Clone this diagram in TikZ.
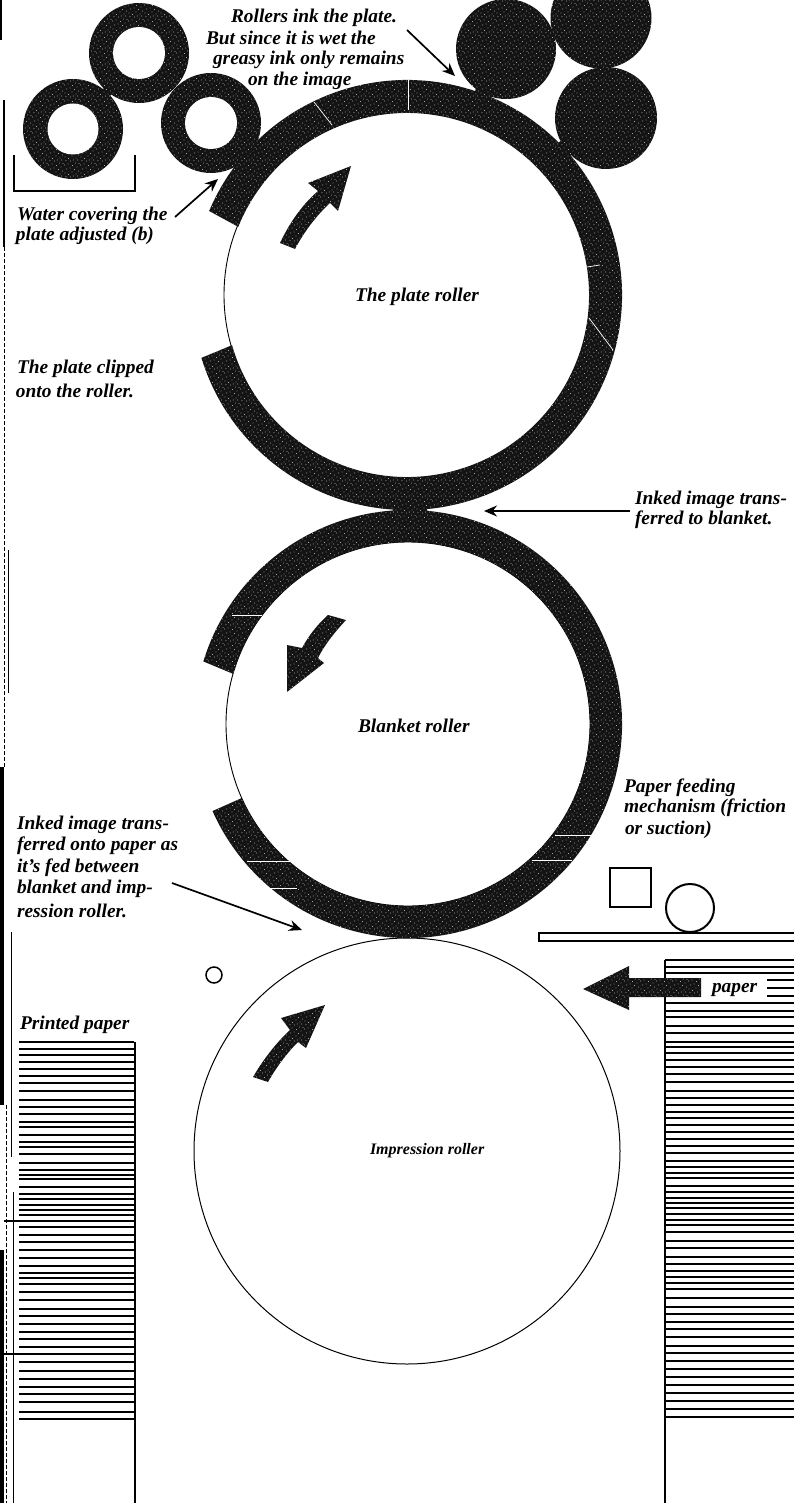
\documentclass[tikz,border=0pt]{standalone}
\usepackage{fontspec}
\setmainfont{Liberation Serif}
\usetikzlibrary{arrows.meta,patterns,calc}
\pgfdeclarepatternformonly{speck}{\pgfqpoint{-1pt}{-1pt}}{\pgfqpoint{17pt}{17pt}}{\pgfqpoint{16pt}{16pt}}{%
  \pgfpathcircle{\pgfqpoint{1pt}{2pt}}{0.42pt}\pgfpathcircle{\pgfqpoint{4.5pt}{0.5pt}}{0.42pt}%
  \pgfpathcircle{\pgfqpoint{8pt}{3pt}}{0.42pt}\pgfpathcircle{\pgfqpoint{12pt}{1pt}}{0.42pt}%
  \pgfpathcircle{\pgfqpoint{14.5pt}{4pt}}{0.42pt}\pgfpathcircle{\pgfqpoint{2.5pt}{6pt}}{0.42pt}%
  \pgfpathcircle{\pgfqpoint{6pt}{7pt}}{0.42pt}\pgfpathcircle{\pgfqpoint{10.5pt}{5.5pt}}{0.42pt}%
  \pgfpathcircle{\pgfqpoint{13pt}{8pt}}{0.42pt}\pgfpathcircle{\pgfqpoint{0.5pt}{10pt}}{0.42pt}%
  \pgfpathcircle{\pgfqpoint{4pt}{11pt}}{0.42pt}\pgfpathcircle{\pgfqpoint{8.5pt}{9.5pt}}{0.42pt}%
  \pgfpathcircle{\pgfqpoint{11.5pt}{12pt}}{0.42pt}\pgfpathcircle{\pgfqpoint{15pt}{11.5pt}}{0.42pt}%
  \pgfpathcircle{\pgfqpoint{2pt}{14.5pt}}{0.42pt}\pgfpathcircle{\pgfqpoint{6.5pt}{14pt}}{0.42pt}%
  \pgfpathcircle{\pgfqpoint{9.5pt}{15pt}}{0.42pt}\pgfpathcircle{\pgfqpoint{13.5pt}{15pt}}{0.42pt}%
  \pgfusepath{fill}}
\definecolor{ink}{gray}{0.08}
\tikzset{
  inkfill/.style={preaction={fill=ink},pattern=speck,pattern color=white},
  inkroller/.style={circle,inner sep=0pt,outer sep=0pt,minimum size=#1,inkfill},
  hole/.style={circle,inner sep=0pt,outer sep=0pt,minimum size=#1,fill=white},
  lab/.style={inner sep=0pt,outer sep=0pt,anchor=west,font=\fontsize{19.4}{21}\selectfont\bfseries\itshape},
  smalllab/.style={lab,font=\fontsize{16}{20}\selectfont\bfseries\itshape},
  leader/.style={draw=black,line width=1.7pt,-{Stealth[length=13pt,width=11pt]}},
  scratch/.style={draw=white,line width=0.7pt},
  sheet/.style={draw=black,line width=1.1pt},
  edge/.style={draw=black,line width=#1},
}
\begin{document}
\begin{tikzpicture}[x=1pt,y=-1pt]
\useasboundingbox (0,0) rectangle (794,1503);
\coordinate (pc) at (407,295);
\coordinate (bc) at (408,724);
% page edge
\draw[edge=2pt] (1,0) -- (1,40);
\draw[edge=1.5pt] (4,100) -- (4,247);
\draw[edge=1pt,dash pattern=on 4pt off 2pt] (4,247) -- (4,767);
\draw[edge=4pt] (2,767) -- (2,1105);
\draw[edge=1pt,dash pattern=on 4pt off 2pt] (6,1105) -- (6,1503);
\draw[edge=4pt] (2,1250) -- (2,1503);
\draw[edge=0.9pt] (8,550) -- (8,693);
\draw[edge=0.9pt] (11,932) -- (11,1157);
\draw[edge=0.9pt] (13,1192) -- (13,1503);
% roller bodies
\draw[line width=0.9pt] (pc) circle[radius=183];
\draw[line width=0.9pt] (bc) circle[radius=182];
\node[circle,draw=black,line width=1pt,inner sep=0pt,outer sep=0pt,minimum size=426pt] (imp) at (407,1151) {};
% plate
\path[inkfill] ($(pc)+(203:215)$) arc[start angle=203,end angle=523,radius=215]
  -- ($(pc)+(524:182)$) arc[start angle=524,end angle=202,radius=182] -- cycle;
% blanket
\path[inkfill] ($(bc)+(197:214)$) arc[start angle=197,end angle=516,radius=214]
  -- ($(bc)+(516:182)$) arc[start angle=516,end angle=196,radius=182] -- cycle;
\path[inkfill] (396,504) -- (424,504) -- (428,512) -- (392,512) -- cycle;
% water rollers
\node[inkroller=100pt] (wa) at (139,53) {};
\node[inkroller=100pt] (wb) at (73,129) {};
\node[inkroller=100pt] (wc) at (211,123) {};
\path[inkfill] (166,78) circle[radius=6];
\path[inkfill] (107,92) circle[radius=5];
\node[hole=52pt] (wah) at (139,53) {};
\node[hole=51pt] (wbh) at (73,129) {};
\node[hole=52pt] (wch) at (211,123) {};
\coordinate (trA) at (14,155); \coordinate (trB) at (14,191);
\coordinate (trC) at (135,191); \coordinate (trD) at (135,155);
\draw[line width=2pt] (trA) -- (trB) -- (trC) -- (trD);
% ink rollers
\node[inkroller=100pt] (ia) at (506,49) {};
\node[inkroller=101pt] (ib) at (601,18) {};
\node[inkroller=102pt] (ic) at (606,118) {};
\path[inkfill] (484,92) circle[radius=9];
\path[inkfill] (566,148) circle[radius=9];
\path[inkfill] (598,64) rectangle (610,72);
% scratches
\draw[scratch] (314,102) -- (332,125);
\draw[scratch] (408,80) -- (408,110);
\draw[scratch] (587,267) -- (600,265);
\draw[scratch] (589,318) -- (613,350);
\draw[scratch] (232,615) -- (262,615);
\draw[scratch] (555,835) -- (592,835);
\draw[scratch] (532,860) -- (572,860);
\draw[scratch] (247,861) -- (290,861);
\draw[scratch] (270,888) -- (297,888);
% rotation arrows
\path[inkfill] (280,243) .. controls (290,222) and (302,205) .. (318,191) -- (308,183) -- (351,166)
  -- (338,211) -- (330,203) .. controls (316,216) and (304,232) .. (295,249) -- cycle;
\path[inkfill] (328,615) .. controls (318,624) and (309,635) .. (302,648) -- (287,645) -- (287,692)
  -- (324,663) -- (318,658) .. controls (325,644) and (335,632) .. (346,620) -- cycle;
\path[inkfill] (253,1077) .. controls (263,1060) and (275,1044) .. (290,1030) -- (281,1018) -- (325,1005)
  -- (306,1048) -- (298,1042) .. controls (286,1054) and (276,1068) .. (268,1082) -- cycle;
% small parts
\node[circle,draw=black,line width=1.5pt,inner sep=0pt,outer sep=0pt,minimum size=16pt] (idler) at (214,975) {};
\node[draw=black,line width=1.1pt,inner sep=0pt,outer sep=0pt,minimum width=41pt,minimum height=39pt] (feedbox) at (630.5,887.5) {};
\node[circle,draw=black,line width=2pt,inner sep=0pt,outer sep=0pt,minimum size=48pt] (feedwheel) at (690,908) {};
\draw[line width=1.2pt] (794,933) -- (539,933) -- (539,941) -- (794,941);
% left stack
\foreach \y in {1042,1049,1055,1062,1069,1076,1083,1091,1100,1107,1114,1122,1127,1135,1142,1147,1154,1163,1170,1175,1179,1187,1194,1199,1205,1210,1215,1227,1235,1242,1250,1258,1266,1273,1278,1284,1292,1300,1309,1316,1324,1332,1339,1347,1362,1371,1379,1387,1394,1402,1412,1419}
  \draw[sheet] (19,\y) -- (134,\y);
\draw[line width=1.5pt] (4,1221) -- (134,1221);
\draw[line width=1.5pt] (4,1354) -- (134,1354);
\draw[line width=1.1pt] (135,1042) -- (135,1503);
% right stack
\foreach \y in {960,967,973,1003,1011,1017,1026,1033,1042,1047,1053,1060,1067,1074,1082,1091,1098,1105,1112,1118,1125,1132,1139,1146,1153,1161,1167,1173,1178,1186,1192,1198,1203,1208,1214,1220,1225,1232,1241,1248,1257,1264,1271,1277,1283,1289,1298,1307,1314,1322,1329,1337,1346,1353,1361,1369,1377,1385,1393,1401,1409,1417}
  \draw[sheet] (665,\y) -- (794,\y);
\foreach \y in {980,988,996} \draw[sheet] (767,\y) -- (794,\y);
\draw[line width=1.1pt] (665,960) -- (665,1503);
% paper arrow
\path[inkfill] (583,989) -- (629,966) -- (629,978) -- (701,978) -- (701,997) -- (629,997) -- (629,1010) -- cycle;
% labels
\node[lab] (r1) at (231,18) {Rollers ink the plate.};
\node[lab] (r2) at (206,38) {But since it is wet the};
\node[lab] (r3) at (213,60) {greasy ink only remains};
\node[lab] (r4) at (248,81) {on the image};
\node[lab] (wt1) at (17,216) {Water covering the};
\node[lab] (wt2) at (16,236) {plate adjusted (b)};
\node[lab] (pl) at (355,297) {The plate roller};
\node[lab] (cl1) at (17,369) {The plate clipped};
\node[lab] (cl2) at (16,391) {onto the roller.};
\node[lab] (ti1) at (635,500) {Inked image trans-};
\node[lab] (ti2) at (635,520) {ferred to blanket.};
\node[lab] (bl) at (358,726) {Blanket roller};
\node[lab] (pf1) at (624,788) {Paper feeding};
\node[lab] (pf2) at (624,808) {mechanism (friction};
\node[lab] (pf3) at (625,830) {or suction)};
\node[lab] (tp1) at (17,825) {Inked image trans-};
\node[lab] (tp2) at (17,846) {ferred onto paper as};
\node[lab] (tp3) at (17,868) {it's fed between};
\node[lab] (tp4) at (17,889) {blanket and imp-};
\node[lab] (tp5) at (17,911) {ression roller.};
\node[lab] (pp) at (20,1025) {Printed paper};
\node[smalllab] (im) at (370,1151) {Impression roller};
\node[lab] (pa) at (712,990) {paper};
% leaders
\coordinate (l1a) at (407,30); \coordinate (l1b) at (455,76);
\coordinate (l2a) at (175,217); \coordinate (l2b) at (218,179);
\coordinate (l3a) at (630,511); \coordinate (l3b) at (484,511);
\coordinate (l4a) at (172,883); \coordinate (l4b) at (302,930);
\draw[leader] (l1a) -- (l1b);
\draw[leader] (l2a) -- (l2b);
\draw[leader] (l3a) -- (l3b);
\draw[leader] (l4a) -- (l4b);
\end{tikzpicture}
\end{document}
